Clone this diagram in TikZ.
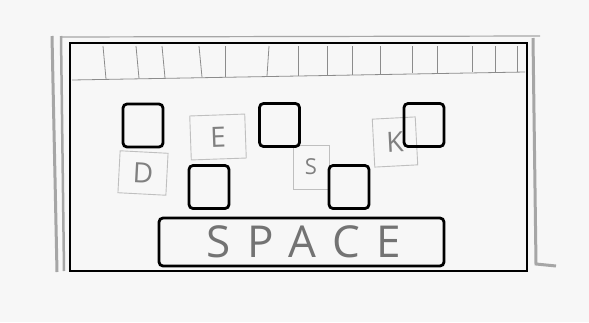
\documentclass[tikz,border=0pt]{standalone}
\usepackage{fontspec}
\setmainfont{Open Sans}

\begin{document}
\begin{tikzpicture}[x=1pt,y=-1pt,
  keysq/.style={draw,line width=2.8pt,rounded corners=4pt,minimum width=40pt,minimum height=43pt,inner sep=0pt},
  lblbox/.style={draw=black!25,line width=0.9pt,text=black!50,inner sep=0pt,font=\fontsize{28}{32}\selectfont},
  sketch/.style={draw=black!35,line width=1.2pt},
  tick/.style={draw=black!45,line width=0.8pt}]
\path[use as bounding box,fill=black!3] (0,0) rectangle (589.0,322.0);
% rough frame round the screen
\draw[sketch] (60,37) -- (540,36);
\draw[sketch,line width=3pt] (52,36) -- (57,272);
\draw[sketch,line width=2.5pt] (61,36) -- (64,271);
\draw[sketch,line width=3pt] (533,38) -- (536,264) -- (556,266);
\draw[line width=2.8pt] (70.0,43.0) rectangle (527.0,271.0);
% row along the top
\draw[tick] (72,80) -- (525,72);
\foreach \x/\d in {103/3,136/3,162/3,199/3,225/0,269/-2,298/0,327/0,352/0,380/0,412/0,437/0,472/0,495/0,517/0}
  \draw[tick] (\x,46) -- (\x+\d,{79.5-0.0177*(\x-72)});
% letter cards
\node[lblbox,minimum width=48pt,minimum height=42pt,rotate=-3] (cardD) at (143,173) {D};
\node[lblbox,minimum width=55pt,minimum height=44pt,rotate=2] (cardE) at (218,137) {E};
\node[lblbox,minimum width=36pt,minimum height=44pt,font=\fontsize{22}{26}\selectfont] (cardS) at (311,167) {S};
\node[lblbox,minimum width=43pt,minimum height=48pt,rotate=3] (cardK) at (395,142) {K};
% keys
\node[keysq] (padA) at (143,125.5) {};
\node[keysq] (padB) at (279.5,125) {};
\node[keysq] (padC) at (424,125) {};
\node[keysq] (padD) at (209,187) {};
\node[keysq] (padE) at (349,187) {};
\node[draw,line width=2.8pt,rounded corners=4pt,minimum width=285pt,minimum height=48pt,inner sep=0pt,text=black!55,
  font=\fontsize{44}{48}\selectfont\addfontfeature{LetterSpace=38}] (spacekey) at (301.5,242) {\hspace{5pt}SPACE};
\end{tikzpicture}
\end{document}
